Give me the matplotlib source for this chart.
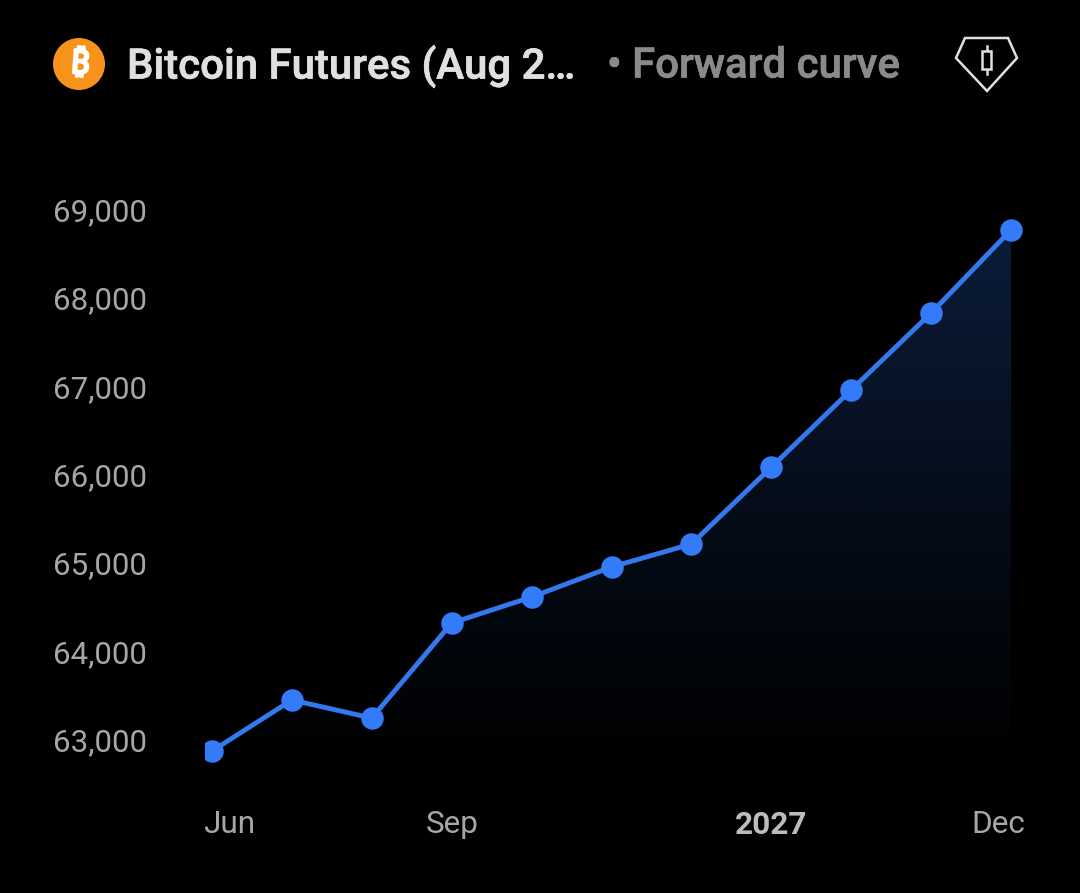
import numpy as np
import matplotlib
matplotlib.use("Agg")
import matplotlib.pyplot as plt
import matplotlib.patheffects as pe
from matplotlib.patches import Polygon, Circle
from matplotlib.transforms import ScaledTranslation
from matplotlib.ticker import FuncFormatter

plt.rcParams['font.family'] = ['Roboto', 'DejaVu Sans']

# --- Data ---
positions = [0, 1, 2, 3, 4, 5, 6, 7, 8, 9, 10]
prices = [62887, 63464, 63260, 64336, 64630, 64970, 65230, 66100, 66974, 67845, 68785]
y_ticks = [63000, 64000, 65000, 66000, 67000, 68000, 69000]
x_tick_pos = [0, 3, 7, 10]
x_tick_labels = ["Jun", "Sep", "2027", "Dec"]

W, H = 1080, 893
fig = plt.figure(figsize=(W / 100, H / 100), dpi=100, facecolor="black")

# axes box in pixels
left, right, top, bottom = 205, 1035, 170, 790
ax = fig.add_axes([left / W, 1 - bottom / H, (right - left) / W, (bottom - top) / H])
ax.set_facecolor("black")
px_per_step = 79.9
ax.set_xlim((left - 212) / px_per_step, (right - 212) / px_per_step)
px_per_unit = 530 / 6000
ax.set_ylim(63000 - (bottom - 741) / px_per_unit, 63000 + (741 - top) / px_per_unit)
for s in ax.spines.values():
    s.set_visible(False)

# --- Gradient area under the curve ---
floor = 62500
grad = np.zeros((256, 1, 4))
grad[:, 0, 0] = 0x0b / 255
grad[:, 0, 1] = 0x1d / 255
grad[:, 0, 2] = 0x3a / 255
grad[:, 0, 3] = np.linspace(1, 0, 256) ** 1.15
im = ax.imshow(grad, extent=[0, 10, floor, max(prices)], origin="upper", aspect="auto",
               zorder=1, interpolation="bilinear")
poly = Polygon(list(zip(positions, prices)) + [(10, floor), (0, floor)], closed=True,
               transform=ax.transData, facecolor="none", edgecolor="none")
ax.add_patch(poly)
im.set_clip_path(poly)
ax.set_xlim((left - 212) / px_per_step, (right - 212) / px_per_step)

# --- Line ---
ax.plot(positions, prices, color="#3478ee", lw=3.5, marker="o", ms=16.2,
        markerfacecolor="#347bfa", markeredgecolor="none", zorder=3)

# --- Axes ---
ax.set_yticks(y_ticks)
ax.yaxis.set_major_formatter(FuncFormatter(lambda v, p: f"{int(v):,}"))
ax.tick_params(axis="y", length=0, pad=42, labelsize=22.5, labelcolor="#a6a6a6")
for lab in ax.get_yticklabels():
    lab.set_transform(lab.get_transform() +
                      ScaledTranslation(0, 1.5 / 100, fig.dpi_scale_trans))
ax.set_xticks(x_tick_pos)
ax.set_xticklabels(x_tick_labels)
ax.tick_params(axis="x", length=0, pad=14.5, labelsize=22.7, labelcolor="#a6a6a6")
x_shift = {"Jun": 17, "Sep": 0, "2027": 0, "Dec": -13}
for lab in ax.get_xticklabels():
    lab.set_transform(lab.get_transform() +
                      ScaledTranslation(x_shift[lab.get_text()] / 100, 0, fig.dpi_scale_trans))
    if lab.get_text() == "2027":
        lab.set_fontweight("bold")
        lab.set_color("#bcbcbc")

# --- Header ---
overlay = fig.add_axes([0, 0, 1, 1], facecolor="none", zorder=5)
overlay.set_xlim(0, W)
overlay.set_ylim(H, 0)
overlay.axis("off")
overlay.add_patch(Circle((79, 64), 26, facecolor="#f7931a", edgecolor="none"))
overlay.text(80, 65, "\u20bf", color="white", fontsize=24, fontweight="bold", ha="center",
             va="center", rotation=-4,
             family=["Noto Sans", "Inter", "Open Sans", "Lato", "Liberation Sans"],
             path_effects=[pe.withStroke(linewidth=1.6, foreground="white")])
# title looks a bit heavier than regular Roboto
heavy = [pe.withStroke(linewidth=0.5, foreground="#e0e0e0")]
overlay.text(127, 61.5, "Bitcoin Futures (Aug 2\u2026", color="#e0e0e0", fontsize=30.2,
             fontweight="medium", va="center_baseline", ha="left", path_effects=heavy)
overlay.text(607, 61.5, "\u2022 Forward curve", color="#8a8a8a", fontsize=30.2,
             fontweight="medium", va="center_baseline", ha="left",
             path_effects=[pe.withStroke(linewidth=0.5, foreground="#8a8a8a")])

# pro badge
overlay.add_patch(Polygon([(965, 38), (1008, 38), (1017, 58), (987, 91), (956, 58)], closed=True,
                          facecolor="none", edgecolor="#e0e0e0", lw=1.8))
overlay.plot([987, 987], [46, 74], color="#e0e0e0", lw=1.8)
overlay.add_patch(plt.Rectangle((982, 51), 9, 18, facecolor="black", edgecolor="#e0e0e0", lw=1.8,
                                zorder=3))

fig.savefig("out.png", dpi=100, facecolor="black")
